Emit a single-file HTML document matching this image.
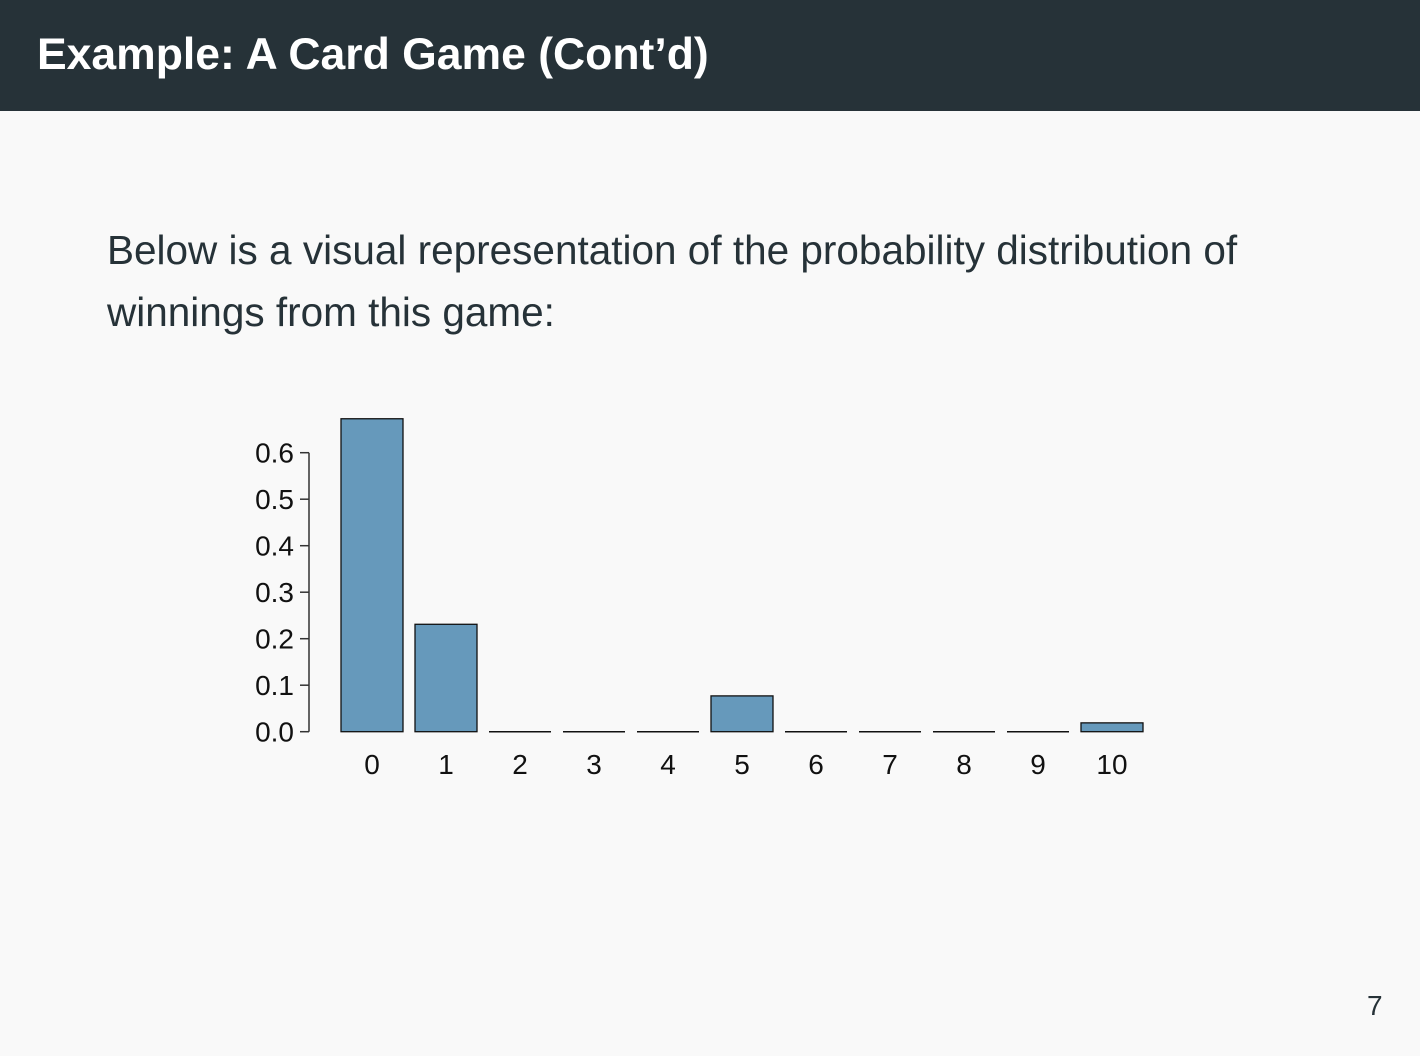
<!DOCTYPE html>
<html><head><meta charset="utf-8"><style>
body{margin:0;width:1420px;height:1056px;background:#f9f9f9;font-family:"Liberation Sans",Arial,sans-serif;position:relative;overflow:hidden}
#hdr{position:absolute;left:0;top:0;width:1420px;height:111px;background:#263238}
#title{position:absolute;left:37px;top:30px;color:#fff;font-weight:bold;font-size:44.5px;margin:0;line-height:50px}
#body{position:absolute;left:107px;top:219px;width:1220px;font-size:40.5px;line-height:62px;color:#263238;margin:0}
#pg{position:absolute;left:1367px;top:990px;font-size:28px;color:#263238}
svg{position:absolute;left:0;top:0}
</style></head><body>
<div id="hdr"><h1 id="title">Example: A Card Game (Cont’d)</h1></div>
<p id="body">Below is a visual representation of the probability distribution of<br>winnings from this game:</p>
<div id="pg">7</div>
<svg id="chart" width="1420" height="1056"></svg>
<script>
const categories=["0","1","2","3","4","5","6","7","8","9","10"];
const values=[0.673,0.231,0,0,0,0.077,0,0,0,0,0.019];
const yTicks=[0,0.1,0.2,0.3,0.4,0.5,0.6];
const yTickLabels=["0.0","0.1","0.2","0.3","0.4","0.5","0.6"];
const svg=document.getElementById('chart');const NS='http://www.w3.org/2000/svg';
const y0=731.7,pxPer=(731.7-452.7)/0.6;
function y(v){return y0-v*pxPer}
function x(i){return 341+i*74}
const bw=62;
function mk(t,a){const e=document.createElementNS(NS,t);for(const k in a)e.setAttribute(k,a[k]);svg.appendChild(e);return e}
const ax=mk('line',{x1:309,x2:309,y1:y(0.6),y2:y(0),stroke:'#333','stroke-width':1.5});


yTicks.forEach((v,i)=>{
const t=mk('line',{x1:300,x2:309,y1:y(v),y2:y(v),stroke:'#333','stroke-width':1.5});


const l=mk('text',{x:294,y:y(v)+10,'text-anchor':'end','font-size':28,fill:'#111','font-family':'Liberation Sans, sans-serif'});
l.textContent=yTickLabels[i];


});
categories.forEach((c,i)=>{
const h=y0-y(values[i]);
let r;
if(h>0.5){r=mk('rect',{x:x(i),y:y(values[i]),width:bw,height:h,fill:'#6699bb',stroke:'#111','stroke-width':1.3});}
else{r=mk('line',{x1:x(i),x2:x(i)+bw,y1:y0,y2:y0,stroke:'#111','stroke-width':1.5});}


const l=mk('text',{x:x(i)+bw/2,y:774,'text-anchor':'middle','font-size':28,fill:'#111','font-family':'Liberation Sans, sans-serif'});
l.textContent=c;


});
</script>
</body></html>
